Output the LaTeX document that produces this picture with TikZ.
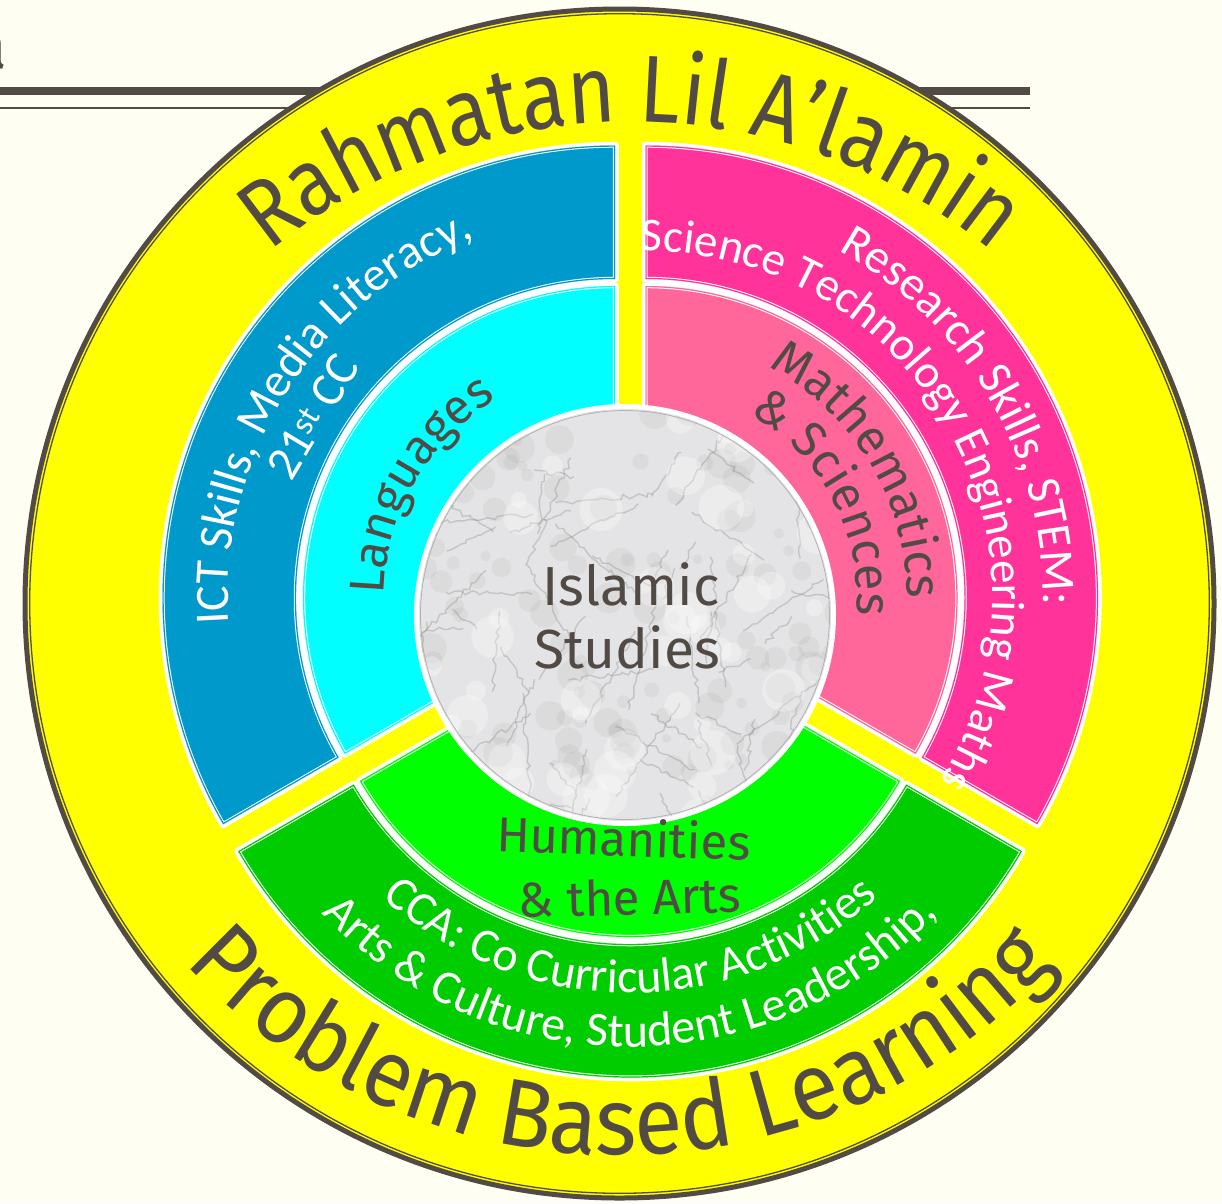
\documentclass[tikz,border=0pt]{standalone}
\usepackage{fontspec}
\setmainfont{Fira Sans}
\newfontfamily\carl{Carlito}
\newfontfamily\firaTop[FakeStretch=0.86]{Fira Sans}
\newfontfamily\firaBot[FakeStretch=0.93]{Fira Sans}
\usetikzlibrary{decorations.text,decorations.pathmorphing}
\definecolor{bg}{RGB}{255,254,243}
\definecolor{ink}{RGB}{82,74,69}
\definecolor{ylw}{RGB}{255,255,0}
\definecolor{blueC}{RGB}{0,153,204}
\definecolor{cyanC}{RGB}{0,255,255}
\definecolor{pinkC}{RGB}{255,51,153}
\definecolor{lpinkC}{RGB}{255,102,153}
\definecolor{dgreenC}{RGB}{0,204,0}
\definecolor{bgreenC}{RGB}{0,255,0}
\definecolor{marbleC}{RGB}{228,228,230}
{\catcode`\&=12 \gdef\ampstr{&}}
\newcommand\ringpath[5]{([shift={(#2:#5)}]#1) arc[start angle=#2,end angle=#3,radius=#5] -- ([shift={(#3:#4)}]#1) arc[start angle=#3,end angle=#2,radius=#4] -- cycle}
\newcommand\ringsec[6]{%
 \draw[white,line width=7.5pt,line join=round] \ringpath{#1}{#2}{#3}{#4}{#5};
 \fill[#6] \ringpath{#1}{#2}{#3}{#4}{#5};
 \begin{scope}
 \clip \ringpath{#1}{#2}{#3}{#4}{#5};
 \draw[white,line width=4.4pt] \ringpath{#1}{#2}{#3}{#4}{#5};
 \draw[#6,line width=2.4pt] \ringpath{#1}{#2}{#3}{#4}{#5};
 \end{scope}}
\newcommand\topfnt{\firaTop\fontsize{95}{95}\selectfont}
\newcommand\botfnt{\firaBot\fontsize{95}{95}\selectfont}
\newcommand\wfnt{\carl\fontsize{48}{48}\selectfont}
\newcommand\dfnt{\fontsize{49}{49}\selectfont}
\tikzset{
 arctext/.style 2 args={decorate,decoration={text along path,text align=center,text color=#1,text={#2}}},
 vein/.style={draw=black!55,opacity=0.28,line width=1.4pt,decorate,decoration={random steps,segment length=5pt,amplitude=2.5pt}},
 rule/.style={draw=ink},
 lbl/.style={inner sep=0pt,text=ink}
}
\begin{document}
\begin{tikzpicture}[x=1pt,y=1pt]
\useasboundingbox (0,0) rectangle (1222,-1203);
\fill[bg] (0,0) rectangle (1222,-1203);
% header fragment
\node[lbl,anchor=base east,font=\fontsize{66}{66}\selectfont] (frag) at (8,-68) {a};
\coordinate (l1a) at (0,-91); \coordinate (l1b) at (1030,-91);
\coordinate (l2a) at (0,-108); \coordinate (l2b) at (1030,-108);
\draw[rule,line width=7.5pt] (l1a) -- (l1b);
\draw[rule,line width=2.6pt] (l2a) -- (l2b);
% centres
\coordinate (Y0) at (619.5,-603.5);
\coordinate (T0) at (631,-691);
\coordinate (U0) at (620,-565);
\coordinate (B) at (615,-598);
\coordinate (P) at (645.5,-598);
\coordinate (G) at (630,-625);
\coordinate (M) at (625,-615);
% yellow disc
\fill[ylw] (Y0) circle[radius=595];
\draw[ink,line width=5pt] (Y0) circle[radius=594.5];
\draw[ink,line width=1.3pt] (Y0) circle[radius=589.8];
% sectors
\ringsec{B}{90}{210}{319}{452.5}{blueC}
\ringsec{P}{-30}{90}{319}{452.5}{pinkC}
\ringsec{G}{210}{330}{319}{452.5}{dgreenC}
\ringsec{B}{90}{210}{120}{312}{cyanC}
\ringsec{P}{-30}{90}{120}{312}{lpinkC}
\ringsec{G}{210}{330}{120}{312}{bgreenC}
% marble centre
\begin{scope}
\clip (M) circle[radius=208];
\fill[marbleC] (M) circle[radius=208];
\pgfmathsetseed{12}
\foreach \i in {1,...,160}{
 \pgfmathsetmacro\px{rnd*440-220}
 \pgfmathsetmacro\py{rnd*440-220}
 \pgfmathsetmacro\pr{4+rnd*12}
 \fill[black!45,opacity=0.10] ([shift={(\px,\py)}]M) circle[radius=\pr];
}
\foreach \i in {1,...,70}{
 \pgfmathsetmacro\px{rnd*440-220}
 \pgfmathsetmacro\py{rnd*440-220}
 \pgfmathsetmacro\pa{rnd*360}
 \pgfmathsetmacro\pl{30+rnd*90}
 \draw[vein] ([shift={(\px,\py)}]M) -- ++(\pa:\pl);
}
\foreach \i in {1,...,60}{
 \pgfmathsetmacro\px{rnd*440-220}
 \pgfmathsetmacro\py{rnd*440-220}
 \pgfmathsetmacro\pr{6+rnd*18}
 \fill[white,opacity=0.30] ([shift={(\px,\py)}]M) circle[radius=\pr];
}
\end{scope}
\draw[white,line width=5pt] (M) circle[radius=208.5];
\draw[black!30,line width=0.8pt] (M) circle[radius=204.5];
% outer ring texts
\path[arctext={ink}{|\topfnt|Rahmatan Lil A’lamin}] ([shift={(160:569)}]T0) arc[start angle=160,end angle=20,radius=569];
\path[arctext={ink}{|\botfnt|Problem Based Learning}] ([shift={(190:590)}]U0) arc[start angle=190,end angle=350,radius=590];
% blue sector
\path[arctext={white}{|\wfnt|ICT Skills, Media Literacy,}] ([shift={(233.5:387)}]B) arc[start angle=233.5,end angle=61.5,radius=387];
\node[inner sep=0pt,anchor=base,rotate=59,text=white,font=\carl\fontsize{48}{48}\selectfont] (cc) at ([shift={(149:337)}]B) {21\textsuperscript{st} CC};
\path[arctext={ink}{|\dfnt|Languages}] ([shift={(235:231)}]B) arc[start angle=235,end angle=65,radius=231];
% pink sector
\path[arctext={white}{|\wfnt|Research Skills, STEM:}] ([shift={(115:397.5)}]P) arc[start angle=115,end angle=-55,radius=397.5];
\path[arctext={white}{|\fontsize{47}{47}\selectfont\carl|Science Technology Engineering Maths}] ([shift={(114.5:347)}]P) arc[start angle=114.5,end angle=-55.5,radius=347];
\path[arctext={ink}{|\dfnt|Mathematics}] ([shift={(116:261.5)}]P) arc[start angle=116,end angle=-54,radius=261.5];
\path[arctext={ink}{|\dfnt|\ampstr\ Sciences}] ([shift={(113:211.5)}]P) arc[start angle=113,end angle=-57,radius=211.5];
% green sector
\node[lbl,anchor=base,rotate=-2,font=\fontsize{49}{49}\selectfont] (hum) at (623,-856) {Humanities};
\node[lbl,anchor=base,rotate=1.5,font=\fontsize{49}{49}\selectfont] (arts) at (630,-915) {\& the Arts};
\path[arctext={white}{|\wfnt|CCA: Co Curricular Activities}] ([shift={(185:368)}]G) arc[start angle=185,end angle=355,radius=368];
\path[arctext={white}{|\wfnt|Arts \ampstr\ Culture, Student Leadership,}] ([shift={(185:422)}]G) arc[start angle=185,end angle=355,radius=422];
% centre text
\node[lbl,anchor=base,font=\fontsize{55}{55}\selectfont] (isl) at (631,-605) {Islamic};
\node[lbl,anchor=base,font=\fontsize{55}{55}\selectfont] (std) at (627,-668) {Studies};
\end{tikzpicture}
\end{document}
